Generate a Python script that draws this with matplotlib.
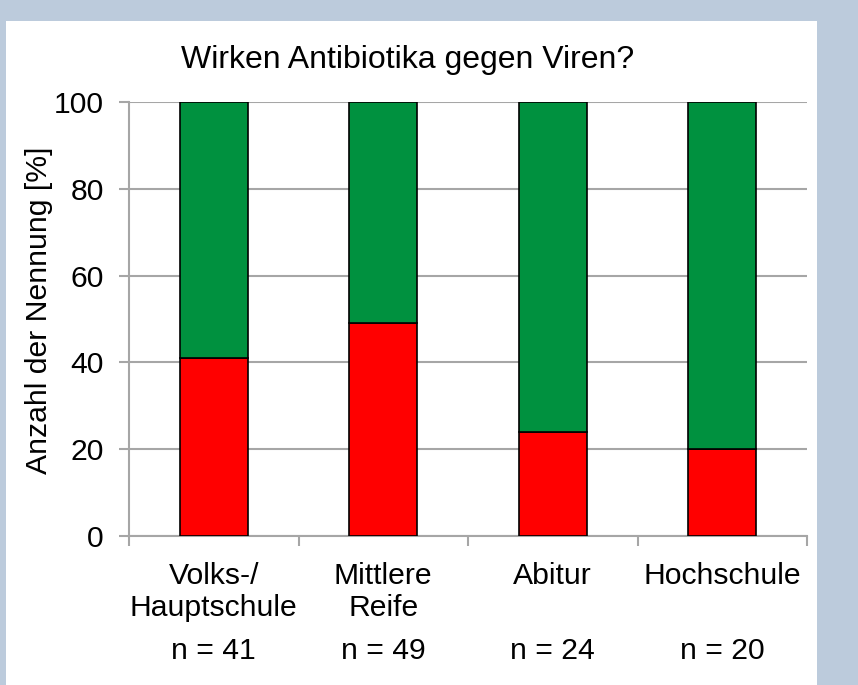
import matplotlib
matplotlib.use("Agg")
import matplotlib.pyplot as plt
from matplotlib.patches import Rectangle

# data
categories = ["Volks-/\nHauptschule", "Mittlere\nReife", "Abitur", "Hochschule"]
n_labels = ["n = 41", "n = 49", "n = 24", "n = 20"]
ja = [41, 49, 24, 20]          # red part
nein = [59, 51, 76, 80]        # green part

plt.rcParams['font.family'] = ['Liberation Sans', 'DejaVu Sans']
fs = 21.7

fig = plt.figure(figsize=(8.58, 6.85), dpi=100, facecolor='#bccbdc')
# white panel
fig.patches.append(Rectangle((6 / 858, 0), 811 / 858, 664 / 685, transform=fig.transFigure,
                             facecolor='white', edgecolor='none', zorder=-5))

ax = fig.add_axes([129 / 858, 1 - 536 / 685, 678 / 858, 434 / 685])
ax.set_zorder(2)
ax.set_facecolor('none')

x = range(len(categories))
ax.bar(x, ja, width=0.4, color='#ff0000', edgecolor='black', linewidth=1.2, zorder=3)
ax.bar(x, nein, width=0.4, bottom=ja, color='#00913f', edgecolor='black', linewidth=1.2, zorder=3)

ax.set_xlim(-0.5, 3.5)
ax.set_ylim(0, 100)
ax.set_yticks([0, 20, 40, 60, 80, 100])
ax.yaxis.grid(True, color='#a6a6a6', linewidth=1.5, zorder=0)
ax.set_axisbelow(True)

for s in ['top', 'right']:
    ax.spines[s].set_visible(False)
ax.spines['left'].set_color('#a6a6a6')
ax.spines['bottom'].set_color('#a6a6a6')
ax.spines['left'].set_linewidth(1.5)
ax.spines['bottom'].set_linewidth(1.5)

ax.tick_params(axis='y', length=7, width=1.5, color='#a6a6a6', pad=11, labelsize=fs)
ax.set_xticks(list(x))
ax.set_xticklabels(categories, fontsize=fs, linespacing=1.15)
ax.tick_params(axis='x', which='major', length=0, pad=19)
ax.set_xticks([-0.5, 0.5, 1.5, 2.5, 3.5], minor=True)
ax.tick_params(axis='x', which='minor', length=7, width=1.5, color='#a6a6a6')

for i, lab in enumerate(n_labels):
    ax.text(i, -123 / 434, lab, transform=ax.get_xaxis_transform(),
            ha='center', va='baseline', fontsize=fs)

ax.set_ylabel('Anzahl der Nennung [%]', fontsize=fs)
ax.yaxis.set_label_coords((53 - 129) / 678, 0.52)

fig.text(408 / 858, 1 - 68 / 685, 'Wirken Antibiotika gegen Viren?', ha='center',
         va='baseline', fontsize=23)

fig.savefig('out.png', dpi=100, facecolor=fig.get_facecolor())
